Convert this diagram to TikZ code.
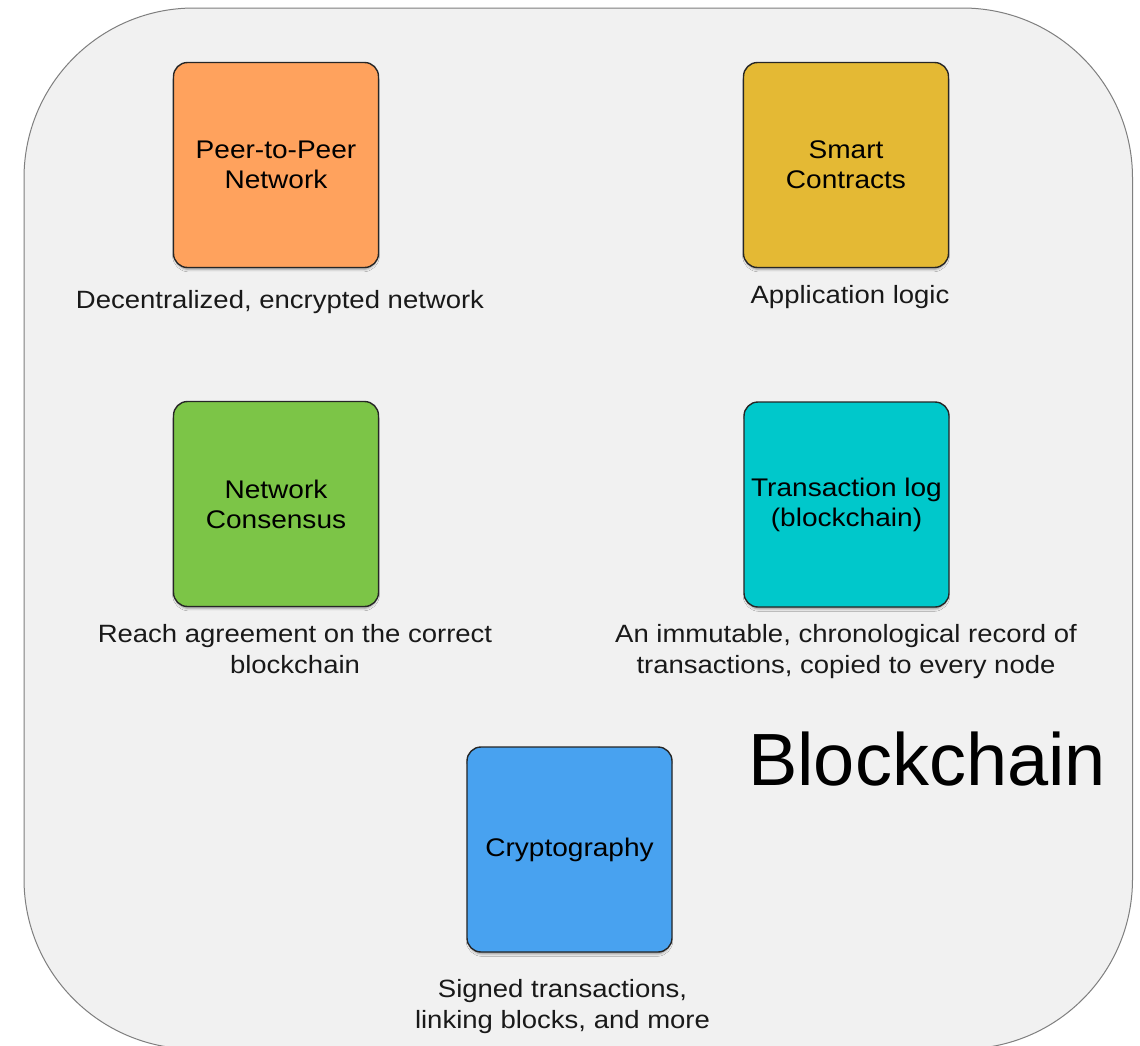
\documentclass[tikz,border=0pt]{standalone}
\usepackage{fontspec}
\setmainfont{Liberation Sans}
\newfontfamily\widesans{Liberation Sans}[FakeStretch=1.1]
\usetikzlibrary{shadows.blur}
\definecolor{panel}{HTML}{F1F1F1}
\definecolor{panelline}{HTML}{7F7F7F}
\definecolor{peer}{HTML}{FFA25D}
\definecolor{smart}{HTML}{E4B934}
\definecolor{consensus}{HTML}{7CC547}
\definecolor{txlog}{HTML}{00C8CB}
\definecolor{crypto}{HTML}{48A2F0}
\begin{document}
\begin{tikzpicture}[x=1pt,y=-1pt,
  block/.style={draw=black!85, line width=1.4pt, rounded corners=14pt,
    minimum width=205pt, minimum height=205pt, inner sep=0pt, align=center,
    font=\widesans\fontsize{25.5}{30}\selectfont,
    blur shadow={shadow xshift=0pt, shadow yshift=-3.5pt, shadow scale=0.985,
      shadow blur radius=2.5pt, shadow opacity=40}},
  caption/.style={align=center, inner sep=0pt, anchor=base,
    font=\widesans\fontsize{25}{31}\selectfont, text=black!90}]
\useasboundingbox (0,0) rectangle (1140,1045);
\fill[white] (0,0) rectangle (1140,1045);

% outer panel
\draw[fill=panel, draw=panelline, line width=1pt, rounded corners=170pt]
  (24,8) rectangle (1132.5,1049);

% component blocks
\node[block, fill=peer]      (p2p)    at (276,165)   {Peer-to-Peer\\Network};
\node[block, fill=smart]     (smart)  at (846,165)   {Smart\\Contracts};
\node[block, fill=consensus] (cons)   at (276,504)   {Network\\Consensus};
\node[block, fill=txlog]     (txlog)  at (846.5,504.5) {Transaction log\\(blockchain)};
\node[block, fill=crypto]    (crypto) at (569.5,849.5) {Cryptography};

% descriptions (anchored on the baseline of the last line)
\node[caption] (p2pcap)    at (280,308) {Decentralized, encrypted network};
\node[caption] (smartcap)  at (850,303) {Application logic};
\node[caption] (conscap)   at (295,673) {Reach agreement on the correct\\blockchain};
\node[caption] (txlogcap)  at (846,673) {An immutable, chronological record of\\transactions, copied to every node};
\node[caption] (cryptocap) at (562.5,1028) {Signed transactions,\\linking blocks, and more};

% title
\node[anchor=base west, inner sep=0pt, font=\fontsize{74}{80}\selectfont]
  (title) at (748,785) {Blockchain};
\end{tikzpicture}
\end{document}
